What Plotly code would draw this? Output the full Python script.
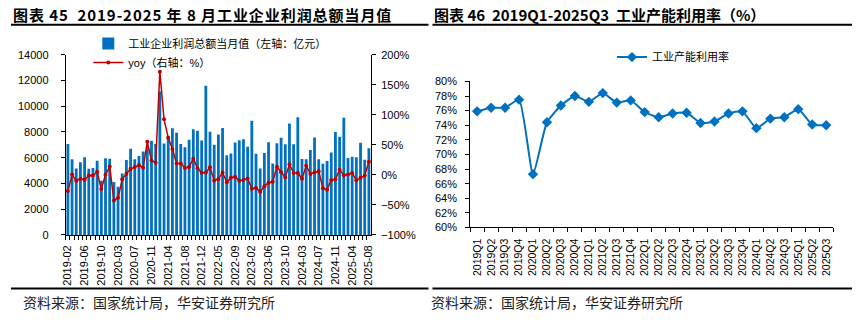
import plotly.graph_objects as go

W, H = 857, 324

# ---------------- data: left chart (monthly, Jan merged into Feb) ----------------
months = [
    "2019-02", "2019-03", "2019-04", "2019-05", "2019-06", "2019-07", "2019-08", "2019-09", "2019-10", "2019-11", "2019-12",
    "2020-02", "2020-03", "2020-04", "2020-05", "2020-06", "2020-07", "2020-08", "2020-09", "2020-10", "2020-11", "2020-12",
    "2021-02", "2021-03", "2021-04", "2021-05", "2021-06", "2021-07", "2021-08", "2021-09", "2021-10", "2021-11", "2021-12",
    "2022-02", "2022-03", "2022-04", "2022-05", "2022-06", "2022-07", "2022-08", "2022-09", "2022-10", "2022-11", "2022-12",
    "2023-02", "2023-03", "2023-04", "2023-05", "2023-06", "2023-07", "2023-08", "2023-09", "2023-10", "2023-11", "2023-12",
    "2024-02", "2024-03", "2024-04", "2024-05", "2024-06", "2024-07", "2024-08", "2024-09", "2024-10", "2024-11", "2024-12",
    "2025-02", "2025-03", "2025-04", "2025-05", "2025-06", "2025-07", "2025-08",
]
profit = [
    7064, 5890, 5167, 5641, 6040, 5142, 5192, 5766, 4218, 5965, 5915,
    4118, 3744, 4767, 5816, 6690, 5890, 6140, 6490, 6900, 7310, 7060,
    11140, 7110, 7690, 8300, 7940, 7060, 6810, 7390, 8210, 8100, 7340,
    11600, 8010, 7010, 7810, 8310, 6190, 6320, 7190, 7360, 7440, 6860,
    8870, 6300, 5160, 6360, 7200, 5560, 7120, 7560, 7040, 8670, 7040,
    9140, 5910, 5890, 6600, 7570, 5880, 5540, 5750, 6400, 8000, 7640,
    9110, 5980, 6080, 6030, 7160, 5840, 6730,
]
yoy = [
    -27.0, 0.5, -10.0, -6.5, -8.0, -1.0, -1.0, 5.0, -23.5, 0.0, 14.0,
    -42.5, -38.0, -7.5, 2.0, 10.0, 13.0, 16.0, 12.0, 55.0, 24.0, 20.0,
    172.0, 92.5, 62.0, 43.0, 19.0, 19.0, 11.5, 13.0, 27.0, 11.0, 3.5,
    4.0, 12.5, -9.5, -7.0, 4.0, -12.5, -5.0, -3.0, -10.0, -8.5, -6.0,
    -23.0, -22.0, -28.0, -19.0, -13.0, -11.5, 13.5, 4.5, -4.0, 17.5, 3.0,
    3.0, -6.4, 15.0, 1.6, 4.3, 5.9, -22.5, -24.6, -8.6, -7.5, 8.6,
    -0.5, 0.5, 3.2, -9.1, -4.8, -1.1, 21.9,
]
month_ticktext = [m if i % 4 == 0 else "" for i, m in enumerate(months)]

# ---------------- data: right chart (quarterly) ----------------
quarters = [
    "2019Q1", "2019Q2", "2019Q3", "2019Q4",
    "2020Q1", "2020Q2", "2020Q3", "2020Q4",
    "2021Q1", "2021Q2", "2021Q3", "2021Q4",
    "2022Q1", "2022Q2", "2022Q3", "2022Q4",
    "2023Q1", "2023Q2", "2023Q3", "2023Q4",
    "2024Q1", "2024Q2", "2024Q3",
    "2025Q1", "2025Q2", "2025Q3",
]
util = [
    75.9, 76.4, 76.4, 77.5,
    67.3, 74.4, 76.7, 78.0,
    77.2, 78.4, 77.1, 77.4,
    75.8, 75.1, 75.6, 75.7,
    74.3, 74.5, 75.6, 75.9,
    73.6, 74.9, 75.1,
    76.2, 74.1, 74.0,
]

FONT = "Liberation Sans, Arial, Noto Sans CJK SC"
CJK = "Noto Sans CJK SC, sans-serif"
BLUE = "#0070C0"
RED = "#C00000"
HS = "\u200a"  # hair space used to open up title letter spacing


def px(x):
    return x / W


def py(y):
    return 1 - y / H


def spaced(s):
    return HS.join(list(s))


fig = go.Figure()
fig.add_trace(go.Bar(
    x=months, y=profit, name="工业企业利润总额当月值（左轴：亿元）",
    marker=dict(color=BLUE, line=dict(width=0)),
    xaxis="x", yaxis="y", legend="legend",
))
fig.add_trace(go.Scatter(
    x=months, y=yoy, name="yoy（右轴：%）", mode="lines+markers",
    line=dict(color=RED, width=1.5), marker=dict(color=RED, size=4),
    xaxis="x", yaxis="y2", legend="legend",
))
fig.add_trace(go.Scatter(
    x=quarters, y=util, name="工业产能利用率", mode="lines+markers",
    line=dict(color=BLUE, width=2, shape="spline", smoothing=0.5),
    marker=dict(color=BLUE, size=8, symbol="diamond"),
    xaxis="x3", yaxis="y3", legend="legend2",
))


def ax(size=11, standoff=0, **kw):
    d = dict(
        showline=True, linecolor="black", linewidth=1, showgrid=False, zeroline=False,
        ticks="outside", ticklen=4, tickcolor="black", tickwidth=1,
        tickfont=dict(family=FONT, size=size, color="black"),
        ticklabelstandoff=standoff,
    )
    d.update(kw)
    return d


fig.update_layout(
    width=W, height=H,
    margin=dict(l=0, r=0, t=0, b=0),
    paper_bgcolor="white", plot_bgcolor="white",
    bargap=0.33,
    font=dict(family=FONT, color="black"),
    xaxis=ax(
        11, 5,
        domain=[px(62.3), px(370)], anchor="y", type="category",
        tickmode="array", tickvals=months, ticktext=month_ticktext,
        tickangle=-90, tickson="boundaries", range=[-0.5, len(months) - 0.5],
    ),
    yaxis=ax(
        11, 10,
        domain=[py(237.7), py(50.7)], anchor="x", range=[0, 14000], dtick=2000,
        tickformat="d",
    ),
    yaxis2=ax(
        11, 3,
        overlaying="y", side="right", anchor="x", range=[-100, 200], dtick=50,
        ticksuffix="%",
    ),
    xaxis3=ax(
        10.5, 6,
        domain=[px(470), px(836)], anchor="y3", type="category",
        tickangle=-90, tickson="boundaries", range=[-0.5, len(quarters) - 0.5],
    ),
    yaxis3=ax(
        11, 6,
        domain=[py(230), py(78.3)], anchor="x3", range=[60, 80], dtick=2,
        ticksuffix="%",
    ),
    legend=dict(
        x=px(85), y=py(24), xanchor="left", yanchor="top",
        bgcolor="rgba(0,0,0,0)", font=dict(family=FONT, size=11, color="black"),
        itemwidth=30, tracegroupgap=0,
    ),
    legend2=dict(
        x=px(613), y=py(38), xanchor="left", yanchor="top",
        bgcolor="rgba(0,0,0,0)", font=dict(family=FONT, size=11, color="black"),
        itemwidth=30,
    ),
)

# titles
fig.add_annotation(
    text="<b>" + spaced("图表 45  2019-2025 年 8 月工业企业利润总额当月值") + "</b>",
    xref="paper", yref="paper", x=px(7), y=py(8.5), xanchor="left", yanchor="middle",
    showarrow=False, font=dict(family=CJK, size=15, color="black"),
)
fig.add_annotation(
    text="<b>图表 46  2019Q1-2025Q3  工业产能利用率（%）</b>",
    xref="paper", yref="paper", x=px(432), y=py(8.5), xanchor="left", yanchor="middle",
    showarrow=False, font=dict(family=CJK, size=15, color="black"),
)
# sources
for x0 in (17, 428):
    fig.add_annotation(
        text="资料来源：国家统计局，华安证券研究所",
        xref="paper", yref="paper", x=px(x0), y=py(307), xanchor="left", yanchor="middle",
        showarrow=False, font=dict(family=CJK, size=14, color="#222"),
    )
# rule lines
for (x0, x1) in ((7, 428), (432, 855)):
    for yy in (19.5, 293.3):
        fig.add_shape(type="line", xref="paper", yref="paper",
                      x0=px(x0), x1=px(x1), y0=py(yy), y1=py(yy),
                      line=dict(color="black", width=2))

fig.write_html("out.html")
